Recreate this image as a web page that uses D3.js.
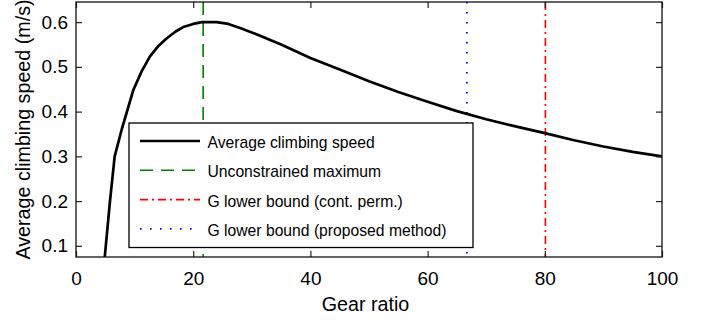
<!DOCTYPE html>
<html>
<head>
<meta charset="utf-8">
<script src="https://cdn.jsdelivr.net/npm/d3@7"></script>
<style>
  body { margin: 0; background: #fff; }
  svg { display: block; font-family: "Liberation Sans", Arial, sans-serif; }
  .axis text { font-size: 19px; fill: #000; }
  .axis line { stroke: #222; stroke-width: 1.2; }
</style>
</head>
<body>
<div class="chart"></div>
<script>
// average climbing speed vs gear ratio
var gearRatio = [4.8, 5.8, 6.6, 7.8, 9.8, 11.2, 12.6, 14, 15.5, 17, 18.3, 20, 21.5, 24, 26, 28, 30, 35, 40, 45, 50, 55, 60, 65, 70, 75, 80, 85, 90, 95, 100];
var climbSpeed = [0.06, 0.2, 0.3, 0.36, 0.449, 0.49, 0.523, 0.546, 0.564, 0.579, 0.589, 0.596, 0.6, 0.6, 0.596, 0.587, 0.577, 0.55, 0.52, 0.494, 0.468, 0.444, 0.422, 0.401, 0.383, 0.367, 0.352, 0.336, 0.322, 0.31, 0.3];

// vertical marker lines (gear ratio)
var markerNames = ['Unconstrained maximum', 'G lower bound (cont. perm.)', 'G lower bound (proposed method)'];
var markerValues = [21.7, 80.1, 66.7];

var legendLabels = ['Average climbing speed', 'Unconstrained maximum', 'G lower bound (cont. perm.)', 'G lower bound (proposed method)'];
var xTicks = [0, 20, 40, 60, 80, 100];
var yTicks = [0.1, 0.2, 0.3, 0.4, 0.5, 0.6];

var styles = [
  { color: '#000', dash: null, w: 2.7 },
  { color: '#008000', dash: '13,8', w: 1.6 },
  { color: '#ff0000', dash: '8,4,2,4', w: 1.6 },
  { color: '#0000ff', dash: '1.6,8.4', w: 1.8 }
];

var margin = { top: 2, right: 47, bottom: 67, left: 76 };
var width = 709 - margin.left - margin.right;
var height = 324 - margin.top - margin.bottom;

var svg = d3.select('.chart')
  .append('svg')
    .attr('width', 709)
    .attr('height', 324)
  .append('g')
    .attr('transform', `translate(${margin.left}, ${margin.top})`);

var xScale = d3.scaleLinear().domain([0, 100]).range([0, width]);
var yScale = d3.scaleLinear().domain([0.075, 0.645]).range([height, 0]);

svg.append('defs').append('clipPath')
    .attr('id', 'clip')
  .append('rect')
    .attr('width', width)
    .attr('height', height);

// marker lines
svg.append('g')
    .attr('clip-path', 'url(#clip)')
  .selectAll('line')
  .data(markerValues)
  .enter()
  .append('line')
    .attr('x1', d => xScale(d))
    .attr('x2', d => xScale(d))
    .attr('y1', 0)
    .attr('y2', height)
    .attr('stroke', (d, i) => styles[i + 1].color)
    .attr('stroke-width', (d, i) => styles[i + 1].w)
    .attr('stroke-dasharray', (d, i) => styles[i + 1].dash);

var line = d3.line()
  .x((d, i) => xScale(gearRatio[i]))
  .y(d => yScale(d));

svg.append('path')
    .datum(climbSpeed)
    .attr('clip-path', 'url(#clip)')
    .attr('fill', 'none')
    .attr('stroke', '#000')
    .attr('stroke-width', styles[0].w)
    .attr('stroke-linejoin', 'round')
    .attr('d', line);

// axes, inward ticks like matlab
function styleAxis(g) {
  g.select('.domain').remove();
  g.attr('class', 'axis');
}

svg.append('g')
  .attr('transform', `translate(0, ${height})`)
  .call(d3.axisBottom(xScale).tickValues(xTicks).tickSize(-6).tickPadding(14.5).tickFormat(d3.format('d')))
  .call(styleAxis);

svg.append('g')
  .call(d3.axisTop(xScale).tickValues(xTicks).tickSize(-6).tickFormat(''))
  .call(styleAxis);

svg.append('g')
  .call(d3.axisLeft(yScale).tickValues(yTicks).tickSize(-6).tickPadding(8).tickFormat(d3.format('.1f')))
  .call(styleAxis);

svg.append('g')
  .attr('transform', `translate(${width}, 0)`)
  .call(d3.axisRight(yScale).tickValues(yTicks).tickSize(-6).tickFormat(''))
  .call(styleAxis);

svg.append('rect')
    .attr('width', width)
    .attr('height', height)
    .attr('fill', 'none')
    .attr('stroke', '#111')
    .attr('stroke-width', 1.3);

// axis labels
svg.append('text')
    .attr('x', 365.5 - margin.left)
    .attr('y', 309)
    .attr('text-anchor', 'middle')
    .style('font-size', '19.7px')
    .text('Gear ratio');

svg.append('text')
    .attr('transform', `translate(${29.5 - margin.left}, ${height / 2}) rotate(-90)`)
    .attr('text-anchor', 'middle')
    .style('font-size', '19.7px')
    .text('Average climbing speed (m/s)');

// legend
var legend = svg.append('g')
    .attr('transform', `translate(${129 - margin.left}, ${123 - margin.top})`);

legend.append('rect')
    .attr('width', 344)
    .attr('height', 124.5)
    .attr('fill', '#fff')
    .attr('stroke', '#000')
    .attr('stroke-width', 1.3);

var items = legend.selectAll('.item')
  .data(legendLabels)
  .enter()
  .append('g')
    .attr('class', 'item')
    .attr('transform', (d, i) => `translate(0, ${18 + i * 29.3})`);

items.append('line')
    .attr('x1', 11)
    .attr('x2', 71)
    .attr('stroke', (d, i) => styles[i].color)
    .attr('stroke-width', (d, i) => styles[i].w)
    .attr('stroke-dasharray', (d, i) => styles[i].dash);

items.append('text')
    .attr('x', 78.5)
    .attr('y', 7)
    .style('font-size', '15.7px')
    .text(d => d);
</script>
</body>
</html>
